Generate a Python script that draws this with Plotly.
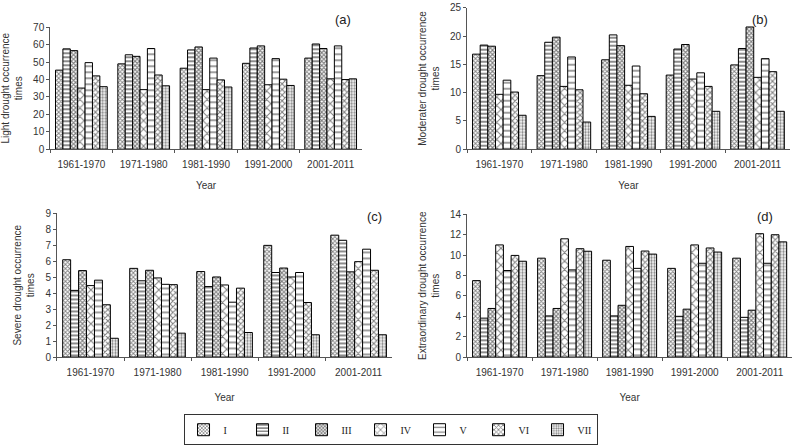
import plotly.graph_objects as go

decades = ["1961-1970", "1971-1980", "1981-1990", "1991-2000", "2001-2011"]
regions = ["I", "II", "III", "IV", "V", "VI", "VII"]

# values[region][decade]
light = [
    [45.4, 49.0, 46.5, 49.3, 52.3],
    [57.6, 54.2, 57.0, 58.1, 60.4],
    [56.6, 53.3, 58.7, 59.3, 57.8],
    [35.1, 34.2, 34.2, 37.0, 40.4],
    [49.7, 57.8, 52.3, 52.0, 59.3],
    [42.1, 42.6, 39.8, 40.2, 40.0],
    [35.9, 36.4, 35.7, 36.6, 40.4],
]
moderate = [
    [16.8, 13.0, 15.8, 13.1, 14.9],
    [18.4, 18.9, 20.2, 17.7, 17.8],
    [18.2, 19.8, 18.3, 18.5, 21.6],
    [9.7, 11.1, 11.3, 12.4, 12.7],
    [12.2, 16.3, 14.7, 13.5, 16.0],
    [10.1, 10.5, 9.8, 11.1, 13.7],
    [6.0, 4.8, 5.8, 6.7, 6.7],
]
severe = [
    [6.1, 5.56, 5.36, 7.0, 7.64],
    [4.18, 4.78, 4.42, 5.3, 7.32],
    [5.42, 5.44, 5.02, 5.58, 5.34],
    [4.48, 4.96, 4.52, 5.02, 5.98],
    [4.82, 4.56, 3.44, 5.3, 6.76],
    [3.28, 4.54, 4.32, 3.42, 5.44],
    [1.18, 1.5, 1.54, 1.4, 1.4],
]
extra = [
    [7.5, 9.7, 9.5, 8.7, 9.7],
    [3.82, 4.04, 4.04, 4.0, 3.9],
    [4.77, 4.77, 5.08, 4.7, 4.6],
    [11.0, 11.6, 10.85, 11.0, 12.1],
    [8.49, 8.55, 8.7, 9.2, 9.2],
    [9.97, 10.63, 10.4, 10.7, 12.0],
    [9.4, 10.38, 10.1, 10.3, 11.3],
]

patterns = [
    dict(shape="x", size=3, solidity=0.5),
    dict(shape="-", size=4, solidity=0.45),
    dict(shape="x", size=3, solidity=0.6),
    dict(shape="x", size=6, solidity=0.3),
    dict(shape="-", size=6, solidity=0.25),
    dict(shape="x", size=4, solidity=0.45),
    dict(shape=".", size=3, solidity=0.45),
]

panels = [
    (light, "x", "y", "Light drought occurrence<br>times"),
    (moderate, "x2", "y2", "Moderater drought occurrence<br>times"),
    (severe, "x3", "y3", "Severe drought occurrence<br>times"),
    (extra, "x4", "y4", "Extraordinary drought occurrence<br>times"),
]

fig = go.Figure()
for pi, (data, xa, ya, _) in enumerate(panels):
    for ri, name in enumerate(regions):
        p = patterns[ri]
        fig.add_trace(go.Bar(
            x=decades, y=data[ri], name=name, xaxis=xa, yaxis=ya,
            legendgroup=name, showlegend=(pi == 0),
            marker=dict(color="white", line=dict(color="black", width=1),
                        pattern=dict(shape=p["shape"], size=p["size"], solidity=p["solidity"],
                                     fgcolor="black", bgcolor="white", fillmode="overlay")),
        ))

font = dict(family="Liberation Sans, Arial", size=10, color="#333")
axfont = dict(family="Liberation Sans, Arial", size=10, color="#333")

def xax(dom, anchor, standoff):
    return dict(domain=dom, anchor=anchor, type="category", showline=True, linecolor="#555",
                linewidth=1, ticks="outside", tickson="boundaries", ticklen=3, tickcolor="#555",
                ticklabelstandoff=6,
                showgrid=False, tickfont=axfont, title=dict(text="Year", font=axfont, standoff=standoff))

def yax(dom, anchor, rng, dtick, title):
    return dict(domain=dom, anchor=anchor, range=rng, dtick=dtick, showline=True, linecolor="#555",
                linewidth=1, ticks="outside", ticklen=3, tickcolor="#555", showgrid=False,
                zeroline=False, tickfont=axfont, title=dict(text=title, font=axfont, standoff=8))

fig.update_layout(
    width=797, height=446, margin=dict(l=0, r=0, t=0, b=0),
    paper_bgcolor="white", plot_bgcolor="white", font=font,
    barmode="group", bargap=0.17, bargroupgap=0,
    xaxis=xax([0.063, 0.454], "y", 12),
    yaxis=yax([0.670, 0.951], "x", [0, 70], 10, panels[0][3]),
    xaxis2=xax([0.586, 0.991], "y2", 12),
    yaxis2=yax([0.670, 0.996], "x2", [0, 25], 5, panels[1][3]),
    xaxis3=xax([0.0715, 0.492], "y3", 16),
    yaxis3=yax([0.191, 0.522], "x3", [0, 9], 1, panels[2][3]),
    xaxis4=xax([0.586, 0.994], "y4", 16),
    yaxis4=yax([0.191, 0.520], "x4", [0, 14], 2, panels[3][3]),
    legend=dict(orientation="h", x=0.49, xanchor="center", y=-0.012, yanchor="bottom",
                bordercolor="#333", borderwidth=1,
                font=dict(family="Liberation Serif, Times New Roman", size=10, color="#222"),
                itemwidth=30, entrywidth=14, tracegroupgap=0),
    annotations=[
        dict(text="(a)", x=0.43, y=0.99, xref="paper", yref="paper", showarrow=False,
             font=dict(family="Liberation Sans, Arial", size=13, color="#222")),
        dict(text="(b)", x=0.966, y=0.99, xref="paper", yref="paper", showarrow=False,
             font=dict(family="Liberation Sans, Arial", size=13, color="#222")),
        dict(text="(c)", x=0.47, y=0.515, xref="paper", yref="paper", showarrow=False,
             font=dict(family="Liberation Sans, Arial", size=13, color="#222")),
        dict(text="(d)", x=0.972, y=0.515, xref="paper", yref="paper", showarrow=False,
             font=dict(family="Liberation Sans, Arial", size=13, color="#222")),
    ],
)

fig.write_html("out.html")
